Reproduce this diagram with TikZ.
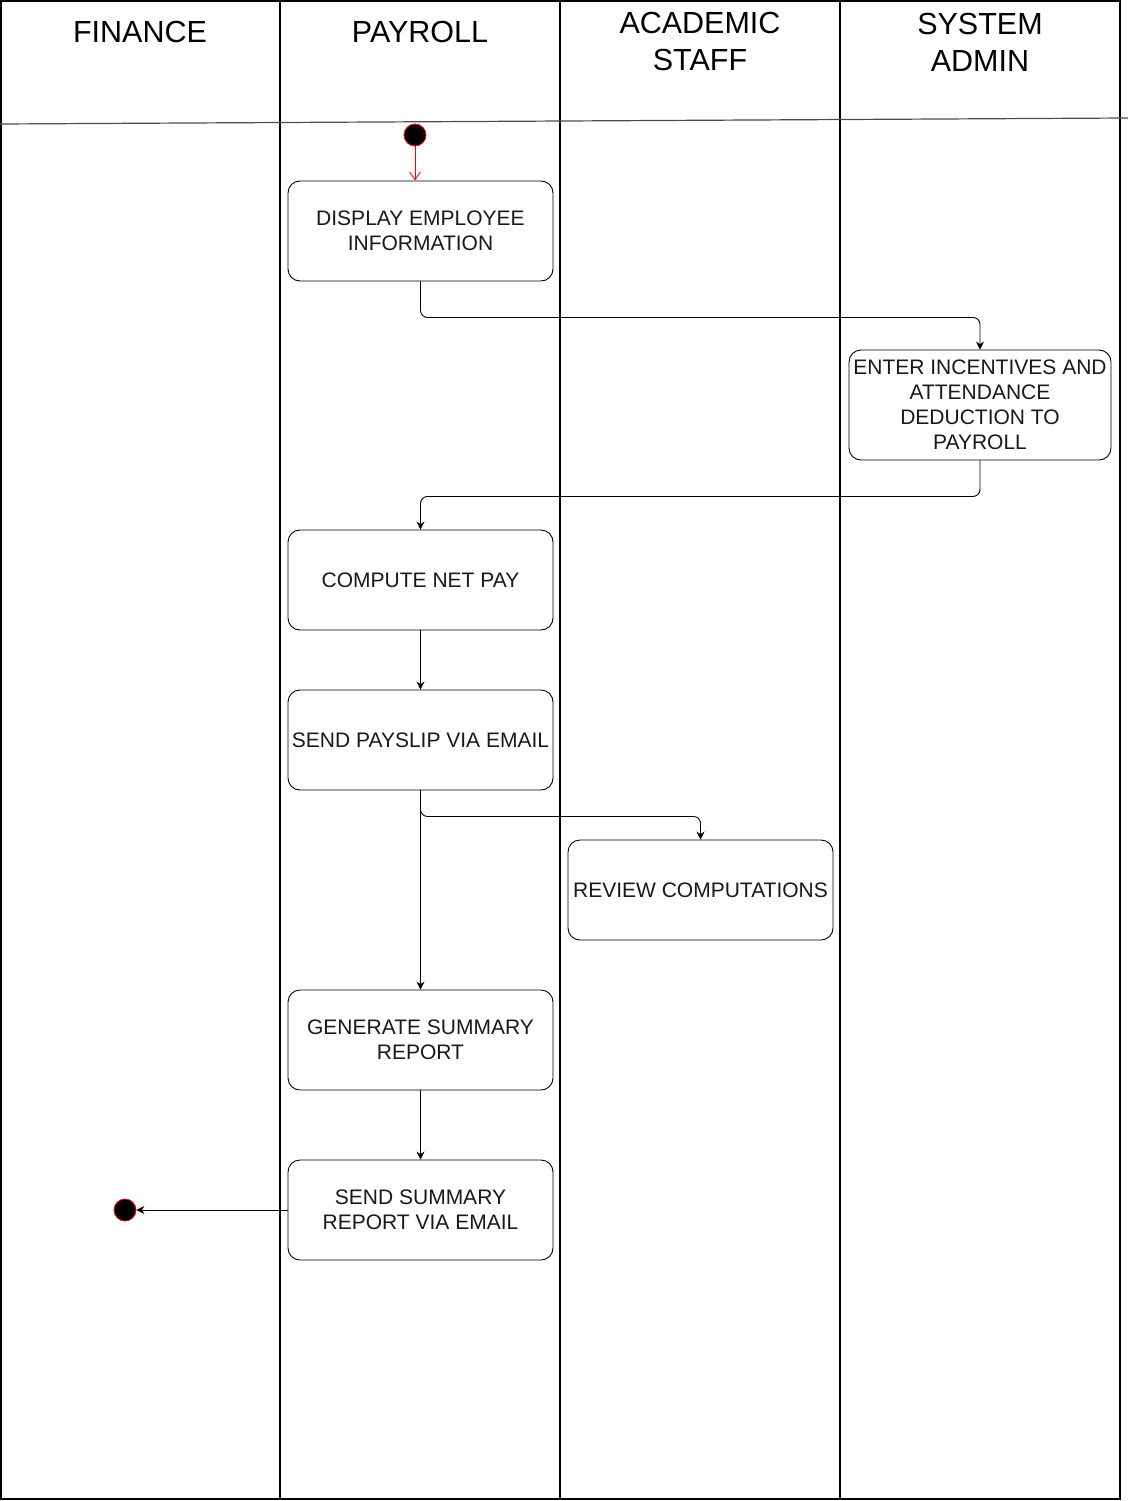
\documentclass[tikz,border=0pt]{standalone}
\usepackage{fontspec}
\setmainfont{Liberation Sans}
\usetikzlibrary{arrows.meta}
\tikzset{
  lane/.style={line width=1.3pt, draw=black},
  head/.style={font=\fontsize{30.5}{37}\selectfont, align=center, inner sep=0pt},
  act/.style={draw=black, line width=0.9pt, rounded corners=12pt, fill=white,
    minimum width=265pt, minimum height=100pt, align=center, inner sep=2pt,
    font=\fontsize{21}{25}\selectfont, text=black!90},
  conn/.style={draw=black, line width=0.9pt, rounded corners=7pt,
    -{Stealth[length=8pt,width=8pt]}},
  startc/.style={circle, fill=black, draw=red, line width=0.8pt, minimum size=22pt, inner sep=0pt},
}
\begin{document}
\begin{tikzpicture}[x=1pt,y=-1pt]
\useasboundingbox (0,0) rectangle (1131,1501);
% swimlanes
\draw[lane] (1,1) rectangle (1120,1499);
\draw[lane] (280,1) -- (280,1499);
\draw[lane] (560,1) -- (560,1499);
\draw[lane] (840,1) -- (840,1499);
\draw[line width=1.2pt, draw=black!70] (0,124) -- (1128,118);
% headers
\node[head] (hfin) at (140,32) {FINANCE};
\node[head] (hpay) at (420,32) {PAYROLL};
\node[head] (hacad) at (700,42) {ACADEMIC\\STAFF};
\node[head] (hsys) at (980,42) {SYSTEM\\ADMIN};
% nodes
\node[startc] (start) at (415,135) {};
\node[act] (disp) at (420.5,231) {DISPLAY EMPLOYEE\\INFORMATION};
\node[act, minimum width=262pt, minimum height=110pt] (enter) at (980,405) {ENTER INCENTIVES AND\\ATTENDANCE\\DEDUCTION TO\\PAYROLL};
\node[act] (comp) at (420.5,580) {COMPUTE NET PAY};
\node[act] (pay) at (420.5,740) {SEND PAYSLIP VIA EMAIL};
\node[act] (rev) at (700.5,890) {REVIEW COMPUTATIONS};
\node[act] (gen) at (420.5,1040) {GENERATE SUMMARY\\REPORT};
\node[act] (sum) at (420.5,1210) {SEND SUMMARY\\REPORT VIA EMAIL};
\node[startc] (end) at (125,1210) {};
% connectors
\draw[draw=red, line width=0.8pt, -{Straight Barb[length=8pt,width=11pt]}] (start) -- (start |- disp.north);
\draw[conn] (disp.south) -- ++(0,36) -| (enter.north);
\draw[conn] (enter.south) -- ++(0,36) -| (comp.north);
\draw[conn] (comp) -- (pay);
\draw[conn] (pay.south) -- ++(0,26) -| (rev.north);
\draw[conn] (pay) -- (gen);
\draw[conn] (gen) -- (sum);
\draw[conn] (sum) -- (end);
\end{tikzpicture}
\end{document}
